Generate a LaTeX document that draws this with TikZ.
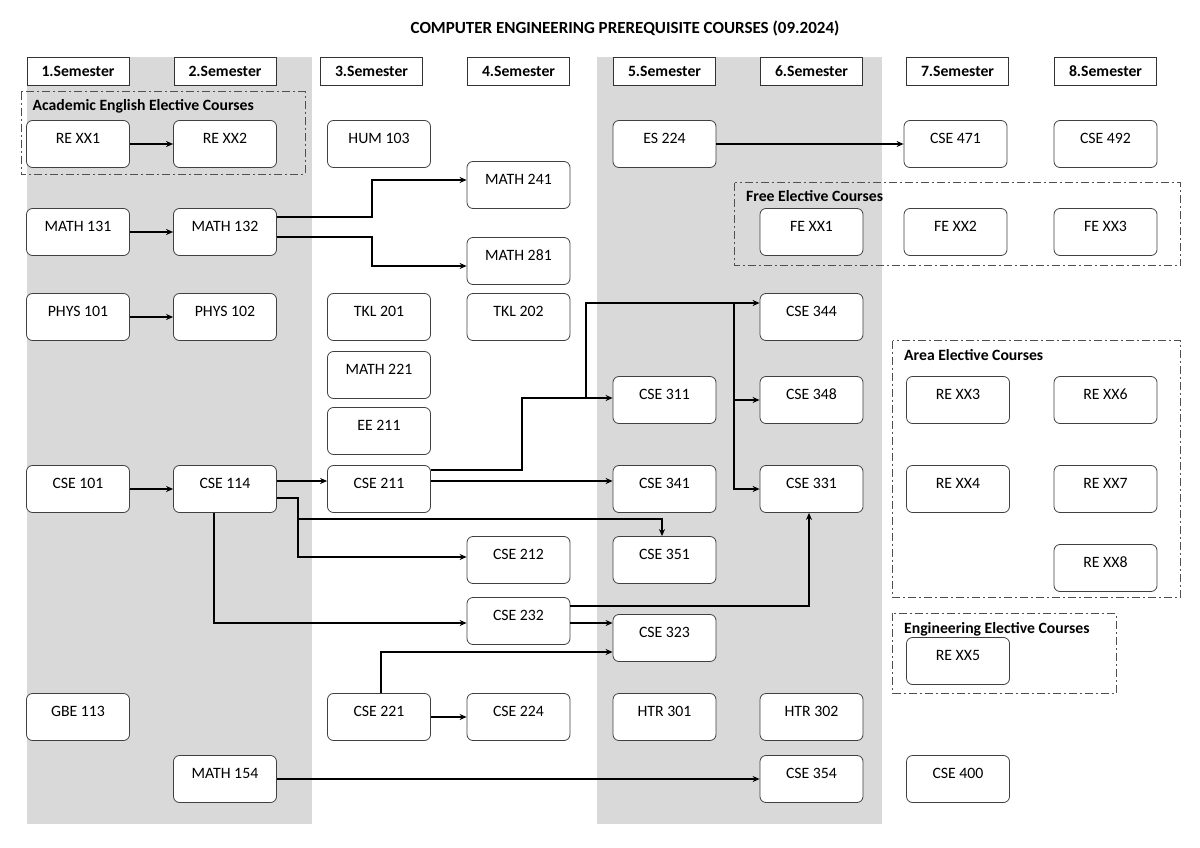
\documentclass[tikz,border=0pt]{standalone}
\usepackage{fontspec}
\setmainfont{Carlito}
\usetikzlibrary{arrows.meta}
\definecolor{band}{HTML}{D9D9D9}
\definecolor{grp}{HTML}{505050}
\newcommand{\cfont}{\fontsize{15.8}{18}\selectfont}
\newcommand{\bfont}{\fontsize{15.7}{18}\selectfont\bfseries}
\newcommand{\tfont}{\fontsize{17}{20}\selectfont\bfseries}
\tikzset{
  course/.style={draw=black!75, line width=0.8pt, fill=white, rounded corners=6pt,
    minimum width=103pt, inner xsep=0pt, inner ysep=0pt, text height=23pt, text depth=24pt, font=\cfont},
  sembox/.style={draw=black!80, line width=1pt, fill=white, minimum width=102pt, minimum height=28pt,
    inner sep=0pt, font=\bfont},
  grpbox/.style={draw=grp, line width=0.9pt, dash pattern=on 8pt off 3pt on 2pt off 3pt},
  grplabel/.style={anchor=base west, inner sep=0pt, font=\bfont},
  arr/.style={line width=1.9pt, -{Stealth[length=7pt,width=6pt]}},
}
\begin{document}
\begin{tikzpicture}[x=1pt,y=-1pt]
\useasboundingbox (0,0) rectangle (1200,848);
% grey bands
\fill[band] (27,57.3) rectangle (311.5,824.3);
\fill[band] (597,57.3) rectangle (882.4,824.3);
% title
\node[font=\tfont, inner sep=0pt] (title) at (625,28) {COMPUTER ENGINEERING PREREQUISITE COURSES (09.2024)};
% semester headers
\node[sembox] (s1) at (78,71.5) {1.Semester};
\node[sembox] (s2) at (225,71.5) {2.Semester};
\node[sembox] (s3) at (371.5,71.5) {3.Semester};
\node[sembox] (s4) at (518.5,71.5) {4.Semester};
\node[sembox] (s5) at (664.5,71.5) {5.Semester};
\node[sembox] (s6) at (811.5,71.5) {6.Semester};
\node[sembox] (s7) at (957.5,71.5) {7.Semester};
\node[sembox] (s8) at (1105.5,71.5) {8.Semester};
% group boxes
\draw[grpbox] (21,91.7) rectangle (305,174.3);
\node[grplabel] (gl1) at (32.5,111) {Academic English Elective Courses};
\draw[grpbox] (734.7,182.7) rectangle (1180.6,265.7);
\node[grplabel] (gl2) at (746,201.7) {Free Elective Courses};
\draw[grpbox] (892.7,340.7) rectangle (1180.7,597.3);
\node[grplabel] (gl3) at (904,360.5) {Area Elective Courses};
\draw[grpbox] (892.7,613.3) rectangle (1116,693.3);
\node[grplabel] (gl4) at (904,633.3) {Engineering Elective Courses};
% courses
\node[course] (re1) at (78,144) {RE XX1};
\node[course] (re2) at (225,144) {RE XX2};
\node[course] (hum103) at (379,144) {HUM 103};
\node[course] (es224) at (664.5,144) {ES 224};
\node[course] (cse471) at (955.5,144) {CSE 471};
\node[course] (cse492) at (1105.5,144) {CSE 492};
\node[course] (m241) at (518.5,185) {MATH 241};
\node[course] (m131) at (78,232) {MATH 131};
\node[course] (m132) at (225,232) {MATH 132};
\node[course] (fe1) at (811.5,232) {FE XX1};
\node[course] (fe2) at (955.5,232) {FE XX2};
\node[course] (fe3) at (1105.5,232) {FE XX3};
\node[course] (m281) at (518.5,261) {MATH 281};
\node[course] (p101) at (78,317) {PHYS 101};
\node[course] (p102) at (225,317) {PHYS 102};
\node[course] (tkl201) at (379,317) {TKL 201};
\node[course] (tkl202) at (518.5,317) {TKL 202};
\node[course] (cse344) at (811.5,317) {CSE 344};
\node[course] (m221) at (379,375) {MATH 221};
\node[course] (cse311) at (664.5,400) {CSE 311};
\node[course] (cse348) at (811.5,400) {CSE 348};
\node[course] (re3) at (958,400) {RE XX3};
\node[course] (re6) at (1105.5,400) {RE XX6};
\node[course] (ee211) at (379,431) {EE 211};
\node[course] (cse101) at (78,489) {CSE 101};
\node[course] (cse114) at (225,489) {CSE 114};
\node[course] (cse211) at (379,489) {CSE 211};
\node[course] (cse341) at (664.5,489) {CSE 341};
\node[course] (cse331) at (811.5,489) {CSE 331};
\node[course] (re4) at (958,489) {RE XX4};
\node[course] (re7) at (1105.5,489) {RE XX7};
\node[course] (cse212) at (518.5,560) {CSE 212};
\node[course] (cse351) at (664.5,560) {CSE 351};
\node[course] (re8) at (1105.5,568) {RE XX8};
\node[course] (cse232) at (518.5,621) {CSE 232};
\node[course] (cse323) at (664.5,638) {CSE 323};
\node[course] (re5) at (958,661) {RE XX5};
\node[course] (gbe113) at (78,717) {GBE 113};
\node[course] (cse221) at (379,717) {CSE 221};
\node[course] (cse224) at (518.5,717) {CSE 224};
\node[course] (htr301) at (664.5,717) {HTR 301};
\node[course] (htr302) at (811.5,717) {HTR 302};
\node[course] (m154) at (225,779) {MATH 154};
\node[course] (cse354) at (811.5,779) {CSE 354};
\node[course] (cse400) at (958,779) {CSE 400};
% connectors
\draw[arr] (re1) -- (re2);
\draw[arr] (m131) -- (m132);
\draw[arr] ([yshift=15pt]m132.east) -- ++(95.5,0) |- ([yshift=5pt]m241.west);
\draw[arr] ([yshift=-5pt]m132.east) -- ++(95.5,0) |- ([yshift=-5pt]m281.west);
\draw[arr] (p101) -- (p102);
\draw[arr] (es224) -- (cse471);
\draw[arr] (cse101) -- (cse114);
\draw[arr] ([yshift=8pt]cse114.east) -- ([yshift=8pt]cse211.west);
\draw[arr] ([yshift=8pt]cse211.east) -- ([yshift=8pt]cse341.west);
\draw[arr] ([yshift=19pt]cse211.east) -- ++(91.5,0) |- ([yshift=2pt]cse311.west);
\coordinate (j1) at (586,398);
\coordinate (j2) at (734,303);
\draw[arr] (j1) |- ([yshift=14pt]cse344.west);
\draw[arr] (j2) |- (cse331.west);
\draw[arr] (j2 |- cse348.west) -- (cse348.west);
\draw[arr] ([yshift=-9pt]cse114.east) -- ++(21.5,0) |- ([yshift=3pt]cse212.west);
\coordinate (j3) at (298,519);
\draw[arr] (j3) -| ([xshift=-2.5pt]cse351.north);
\draw[arr] ([xshift=-11pt]cse114.south) |- ([yshift=-2pt]cse232.west);
\coordinate (c232a) at ([yshift=-2pt]cse232.east);
\draw[arr] (c232a) -- (c232a -| cse323.west);
\coordinate (c232b) at ([yshift=15pt]cse232.east);
\draw[arr] (c232b) -| ([xshift=-2.5pt]cse331.south);
\draw[arr] ([xshift=2pt]cse221.north) |- ([yshift=-14pt]cse323.west);
\draw[arr] (cse221) -- (cse224);
\draw[arr] (m154) -- (cse354);
\end{tikzpicture}
\end{document}
